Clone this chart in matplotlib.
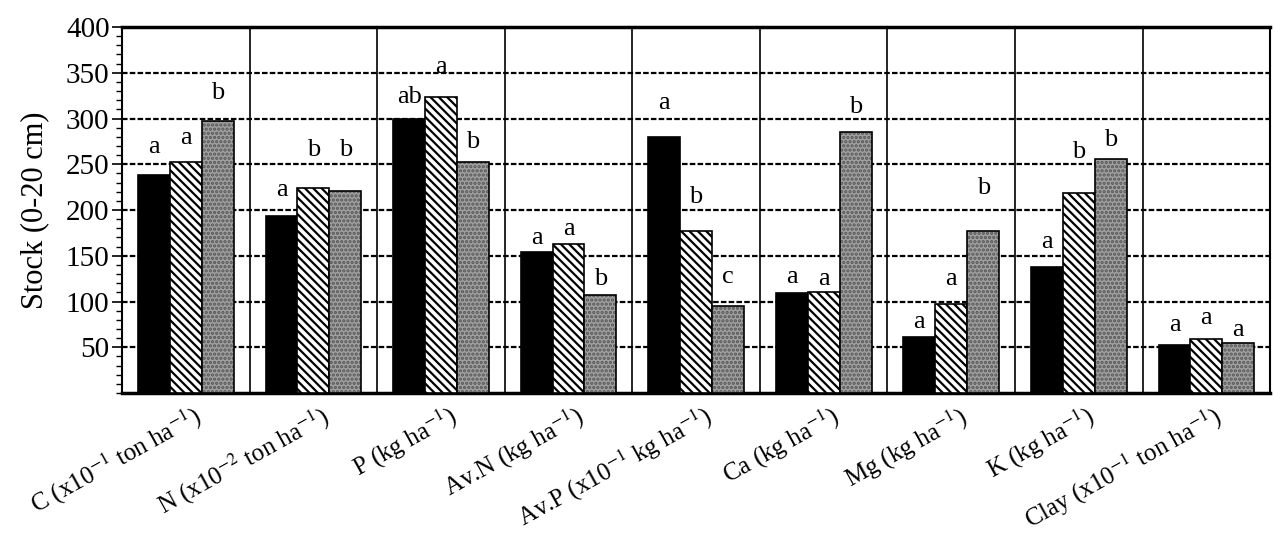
import numpy as np
import matplotlib
matplotlib.use('Agg')
import matplotlib.pyplot as plt
from matplotlib.ticker import MultipleLocator

plt.rcParams['font.family'] = ['Liberation Serif', 'DejaVu Serif']
plt.rcParams['mathtext.fontset'] = 'stix'
plt.rcParams['hatch.linewidth'] = 1.6

# 9 soil properties, 3 treatments (black / hatched / dotted grey)
categories = [r'C (x10$^{-1}$ ton ha$^{-1}$)', r'N (x10$^{-2}$ ton ha$^{-1}$)',
              r'P (kg ha$^{-1}$)', r'Av.N (kg ha$^{-1}$)',
              r'Av.P (x10$^{-1}$ kg ha$^{-1}$)', r'Ca (kg ha$^{-1}$)',
              r'Mg (kg ha$^{-1}$)', r'K (kg ha$^{-1}$)',
              r'Clay (x10$^{-1}$ ton ha$^{-1}$)']
series1 = [238, 193, 299, 154, 280, 109, 61, 138, 53]
series2 = [252, 224, 324, 163, 177, 110, 97, 219, 59]
series3 = [297, 221, 252, 107, 95, 285, 177, 256, 55]

letters1 = ['a', 'a', 'ab', 'a', 'a', 'a', 'a', 'a', 'a']
letters2 = ['a', 'b', 'a', 'a', 'b', 'a', 'a', 'b', 'a']
letters3 = ['b', 'b', 'b', 'b', 'c', 'b', 'b', 'b', 'a']
# how far above each bar the letter sits
gap1 = [31, 29, 25, 15, 37, 18, 17, 27, 21]
gap2 = [27, 42, 32, 16, 37, 15, 28, 44, 23]
gap3 = [31, 45, 22, 18, 32, 28, 47, 20, 14]

fig = plt.figure(figsize=(12.74, 5.38), dpi=100)
ax = fig.add_axes([0.0958, 0.2695, 0.9012, 0.6803])

x = np.arange(len(categories))
w = 0.25

# grid first so bars sit on top
for yv in range(50, 400, 50):
    ax.axhline(yv, color='black', lw=1.6, ls=(0, (2.5, 1)), zorder=1)
for xv in np.arange(0.5, len(categories) - 0.5, 1):
    ax.axvline(xv, color='black', lw=1.2, zorder=1)

ax.bar(x - w, series1, w, color='black', edgecolor='black', lw=1.2, zorder=3)
ax.bar(x, series2, w, color='white', edgecolor='black', hatch='\\\\\\\\', lw=1.2, zorder=3)
ax.bar(x + w, series3, w, color='#a0a0a0', edgecolor='#555555', hatch='....', lw=0, zorder=3)
ax.bar(x + w, series3, w, fill=False, edgecolor='black', lw=1.2, zorder=4)

for vals, labs, gaps, off in [(series1, letters1, gap1, -w),
                              (series2, letters2, gap2, 0),
                              (series3, letters3, gap3, w)]:
    for i in range(len(categories)):
        ax.text(x[i] + off, vals[i] + gaps[i], labs[i], ha='center', va='center',
                fontsize=19, zorder=5)

ax.set_xlim(-0.5, len(categories) - 0.5)
ax.set_ylim(0, 400)
ax.set_yticks(range(50, 401, 50))
ax.yaxis.set_minor_locator(MultipleLocator(10))
ax.tick_params(axis='y', which='major', direction='out', length=7, width=1.2, labelsize=21, pad=2)
ax.tick_params(axis='y', which='minor', direction='out', length=4, width=1)
ax.set_xticks(x + 0.05)
ax.set_xticklabels(categories, rotation=29, ha='right', rotation_mode='anchor', fontsize=18)
ax.tick_params(axis='x', length=0, pad=6)
ax.set_ylabel('Stock (0-20 cm)', fontsize=22, labelpad=12)

ax.spines['top'].set_linewidth(2.5)
ax.spines['bottom'].set_linewidth(2.5)
ax.spines['left'].set_linewidth(1.5)
ax.spines['right'].set_linewidth(1.5)

fig.savefig('out.png', dpi=100)
